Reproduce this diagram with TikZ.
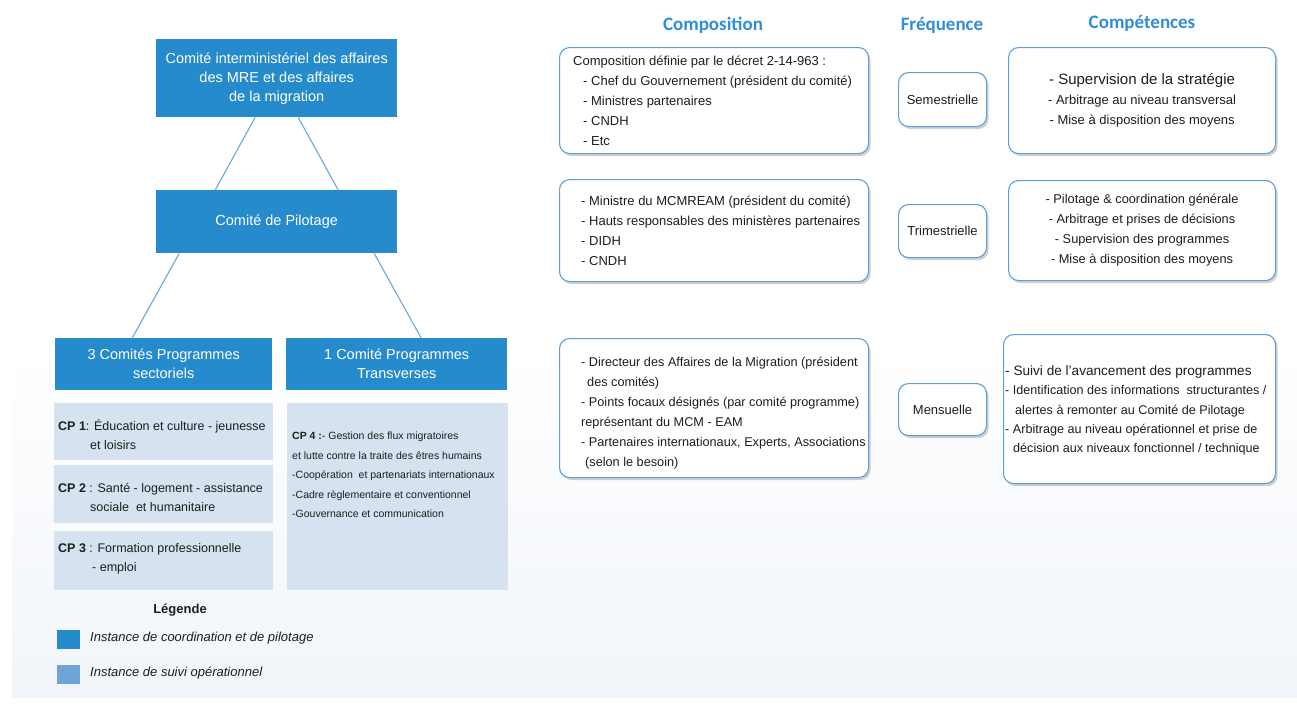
\documentclass[tikz,border=0pt]{standalone}
\usepackage{fontspec}
\setmainfont{Liberation Sans}
\newfontfamily\hdrfont{Carlito}
\usetikzlibrary{shadows}
\definecolor{dblue}{HTML}{268BCC}
\definecolor{lbox}{HTML}{D6E2F0}
\definecolor{lsq}{HTML}{6FA5D6}
\definecolor{bord}{HTML}{5E9FD9}
\definecolor{hdrc}{HTML}{2F8FD8}
\definecolor{txt}{HTML}{1E1E1E}
\definecolor{lnk}{HTML}{6AA8DE}
\definecolor{bgtint}{HTML}{F1F5FA}
\begin{document}
\begin{tikzpicture}[x=1pt,y=-1pt,
  darkbox/.style={fill=dblue, text=white, draw=none, inner sep=0pt, align=center,
    font=\fontsize{14.5}{19}\selectfont, anchor=north west},
  lightbox/.style={fill=lbox, draw=none, inner sep=0pt, anchor=north west},
  roundbox/.style={draw=bord, line width=1.1pt, rounded corners=10pt, fill=white,
    anchor=north west, text=txt, inner sep=0pt,
    drop shadow={shadow xshift=2pt, shadow yshift=-2.5pt, fill=black!45, opacity=0.4}},
  intext/.style={anchor=west, align=left, inner sep=0pt, text=txt},
  hdr/.style={font=\hdrfont\bfseries\fontsize{19}{22}\selectfont, text=hdrc},
  link/.style={draw=lnk, line width=1.1pt},
  legsq/.style={draw=none, inner sep=0pt, minimum width=23pt, minimum height=19pt, anchor=north west}
]
\useasboundingbox (0,0) rectangle (1297,704);
\fill[white] (0,0) rectangle (1297,704);
\shade[top color=white, bottom color=bgtint, middle color=white] (12,0) rectangle (1297,697);

% ---- left hierarchy ----
\node[darkbox, minimum width=241pt, minimum height=78pt] (cim) at (156,39)
  {Comité interministériel des affaires\\des MRE et des affaires\\de la migration};
\node[darkbox, minimum width=241pt, minimum height=63pt] (pil) at (156,190)
  {Comité de Pilotage};
\node[darkbox, minimum width=217pt, minimum height=52pt] (sect) at (55,338)
  {3 Comités Programmes\\sectoriels};
\node[darkbox, minimum width=221pt, minimum height=52pt] (trans) at (286,338)
  {1 Comité Programmes\\Transverses};

\draw[link] ([xshift=-21.5pt]cim.south) -- ([xshift=-61.5pt]pil.north);
\draw[link] ([xshift=21.5pt]cim.south) -- ([xshift=61.5pt]pil.north);
\draw[link] ([xshift=-97.5pt]pil.south) -- ([xshift=-31.5pt]sect.north);
\draw[link] ([xshift=97.5pt]pil.south) -- ([xshift=24.5pt]trans.north);

\node[lightbox, minimum width=219pt, minimum height=57pt] (cp1) at (54,403) {};
\node[lightbox, minimum width=219pt, minimum height=58pt] (cp2) at (54,465) {};
\node[lightbox, minimum width=219pt, minimum height=59pt] (cp3) at (54,531) {};
\node[lightbox, minimum width=221pt, minimum height=187pt] (cp4) at (287,403) {};

\node[intext, font=\fontsize{12.5}{19}\selectfont] (cp1t) at (58,434.5)
  {\textbf{CP 1}: Éducation et culture - jeunesse\\\hspace*{32pt}et loisirs};
\node[intext, font=\fontsize{12.5}{19}\selectfont] (cp2t) at (58,497.5)
  {\textbf{CP 2} : Santé - logement - assistance\\\hspace*{32pt}sociale \ et humanitaire};
\node[intext, font=\fontsize{12.5}{19}\selectfont] (cp3t) at (58,558.5)
  {\textbf{CP 3} : Formation professionnelle\\\hspace*{34pt}- emploi};
\node[anchor=north west, align=left, inner sep=0pt, text=txt, font=\fontsize{10.5}{19.5}\selectfont] (cp4t) at (292,432)
  {\textbf{CP 4 :}- Gestion des flux migratoires\\et lutte contre la traite des êtres humains\\-Coopération \ et partenariats internationaux\\-Cadre règlementaire et conventionnel\\-Gouvernance et communication};

% ---- legend ----
\node[font=\bfseries\fontsize{13}{15}\selectfont, text=txt] (legt) at (180,610) {Légende};
\node[legsq, fill=dblue] (lg1) at (57,630) {};
\node[legsq, fill=lsq] (lg2) at (57,665) {};
\node[intext, font=\itshape\fontsize{13}{15}\selectfont] (lg1t) at (90,638) {Instance de coordination et de pilotage};
\node[intext, font=\itshape\fontsize{13}{15}\selectfont] (lg2t) at (90,673) {Instance de suivi opérationnel};

% ---- headers ----
\node[hdr] (hcomp) at (713,25) {Composition};
\node[hdr] (hfreq) at (942,25) {Fréquence};
\node[hdr] (hcpt) at (1142,23) {Compétences};

% ---- composition ----
\node[roundbox, minimum width=309pt, minimum height=106pt] (c1) at (559,47) {};
\node[intext, font=\fontsize{13}{20}\selectfont] (c1t) at (573,100.5)
  {Composition définie par le décret 2-14-963 :\\
   \hspace*{10pt}- Chef du Gouvernement (président du comité)\\
   \hspace*{10pt}- Ministres partenaires\\
   \hspace*{10pt}- CNDH\\
   \hspace*{10pt}- Etc};
\node[roundbox, minimum width=309pt, minimum height=102pt] (c2) at (559,179) {};
\node[intext, font=\fontsize{13}{20}\selectfont] (c2t) at (581,231)
  {- Ministre du MCMREAM (président du comité)\\
   - Hauts responsables des ministères partenaires\\
   - DIDH\\
   - CNDH};
\node[roundbox, minimum width=309pt, minimum height=139pt] (c3) at (559,338) {};
\node[intext, font=\fontsize{12.7}{20}\selectfont] (c3t) at (581,413)
  {- Directeur des Affaires de la Migration (président\\
   \hspace*{6pt}des comités)\\
   - Points focaux désignés (par comité programme)\\
   représentant du MCM - EAM\\
   - Partenaires internationaux, Experts, Associations\\
   \hspace*{4pt}(selon le besoin)};

% ---- frequence ----
\node[roundbox, minimum width=88pt, minimum height=54pt, font=\fontsize{13}{15}\selectfont] (f1) at (898,72) {Semestrielle};
\node[roundbox, minimum width=88pt, minimum height=53pt, font=\fontsize{13}{15}\selectfont] (f2) at (898,204) {Trimestrielle};
\node[roundbox, minimum width=88pt, minimum height=52pt, font=\fontsize{13}{15}\selectfont] (f3) at (898,383) {Mensuelle};

% ---- competences ----
\node[roundbox, minimum width=267pt, minimum height=106pt, align=center, font=\fontsize{13}{20}\selectfont] (k1) at (1008,47)
  {{\fontsize{15}{20}\selectfont - Supervision de la stratégie}\\
   - Arbitrage au niveau transversal\\
   - Mise à disposition des moyens};
\node[roundbox, minimum width=267pt, minimum height=100pt, align=center, font=\fontsize{12.8}{20}\selectfont] (k2) at (1008,180)
  {- Pilotage \& coordination générale\\
   - Arbitrage et prises de décisions\\
   - Supervision des programmes\\
   - Mise à disposition des moyens};
\node[roundbox, minimum width=272pt, minimum height=149pt] (k3) at (1003,334) {};
\node[intext, font=\fontsize{12.6}{19.3}\selectfont] (k3t) at (1005,410.5)
  {{\fontsize{13.6}{19.3}\selectfont - Suivi de l'avancement des programmes}\\
   - Identification des informations \ structurantes /\\
   \hspace*{10pt}alertes à remonter au Comité de Pilotage\\
   - Arbitrage au niveau opérationnel et prise de\\
   \hspace*{8pt}décision aux niveaux fonctionnel / technique};
\end{tikzpicture}
\end{document}
